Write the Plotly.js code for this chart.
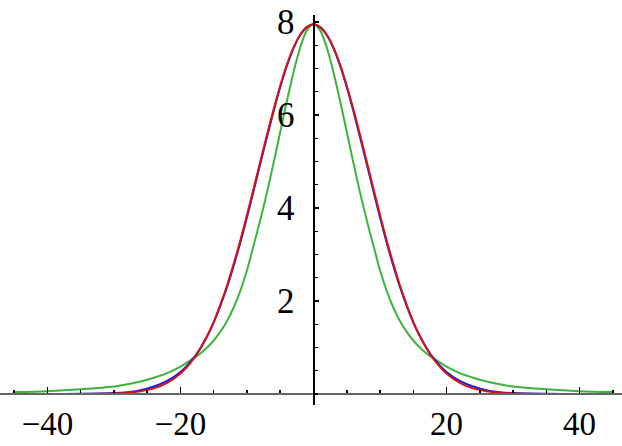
<!DOCTYPE html>
<html>
<head>
<meta charset="utf-8">
<script src="https://cdn.plot.ly/plotly-3.0.1.min.js"></script>
<style>html,body{margin:0;padding:0;background:#fff;}#chart{width:622px;height:446px;}</style>
</head>
<body>
<div id="chart"></div>
<script>
// |x| sample positions (curves are symmetric about x = 0)
var xHalf = [0, 1, 2, 3, 4, 5, 6, 7, 8, 9, 10, 11, 12, 13, 14, 15, 16, 17, 18, 20, 22, 24, 26, 28, 30, 35, 40, 45];
// values
var redHalf   = [7.95, 7.89, 7.72, 7.45, 7.08, 6.63, 6.12, 5.57, 5.00, 4.42, 3.85, 3.30, 2.80, 2.33, 1.92, 1.55, 1.24, 0.98, 0.76, 0.44, 0.24, 0.12, 0.06, 0.027, 0.012, 0.0, 0.0, 0.0];
var blueHalf  = [7.95, 7.89, 7.72, 7.44, 7.06, 6.60, 6.08, 5.52, 4.95, 4.37, 3.80, 3.26, 2.76, 2.30, 1.90, 1.54, 1.24, 0.99, 0.78, 0.47, 0.28, 0.16, 0.08, 0.04, 0.02, 0.005, 0.0, 0.0];
var greenHalf = [7.95, 7.82, 7.45, 6.92, 6.30, 5.64, 4.97, 4.33, 3.74, 3.20, 2.66, 2.22, 1.86, 1.57, 1.34, 1.15, 1.00, 0.87, 0.77, 0.59, 0.45, 0.35, 0.27, 0.21, 0.16, 0.10, 0.06, 0.04];
var xTickVals = [-40, -20, 20, 40];
var yTickVals = [2, 4, 6, 8];

function mirrorX(h){ var a=[]; for(var i=h.length-1;i>0;i--) a.push(-h[i]); return a.concat(h); }
function mirrorY(h){ var a=[]; for(var i=h.length-1;i>0;i--) a.push(h[i]); return a.concat(h); }

var xs = mirrorX(xHalf);
var xMin = -47.14, xMax = 46.39, yMin = -0.237, yMax = 8.15;

function tr(y, color){
  return {x: xs, y: mirrorY(y), type: 'scatter', mode: 'lines',
    line: {color: color, width: 2, shape: 'spline', smoothing: 0.8}, hoverinfo: 'skip'};
}
var data = [tr(greenHalf, '#3cb43c'), tr(blueHalf, '#1a1ae0'), tr(redHalf, '#d41414')];

var fontY = {family: 'Liberation Serif, Times New Roman, serif', size: 35, color: '#000'};
var fontX = {family: 'Liberation Serif, Times New Roman, serif', size: 33, color: '#000'};
var layout = {
  width: 622, height: 446,
  margin: {l: 0, r: 0, t: 15, b: 41, pad: 0},
  paper_bgcolor: '#fff', plot_bgcolor: '#fff',
  showlegend: false, hovermode: false,
  xaxis: {
    range: [xMin, xMax], anchor: 'free', position: (0 - yMin) / (yMax - yMin),
    showgrid: false, zeroline: false, showline: true, linecolor: '#666', linewidth: 2,
    tickmode: 'array', tickvals: xTickVals, ticks: 'inside', ticklen: 6, tickwidth: 1.5, tickcolor: '#000',
    minor: {tickmode: 'linear', tick0: 0, dtick: 5, ticks: 'inside', ticklen: 3, tickwidth: 1.5, tickcolor: '#000', showgrid: false},
    tickfont: fontX, ticklabelstandoff: 0
  },
  yaxis: {
    range: [yMin, yMax], anchor: 'free', position: (0 - xMin) / (xMax - xMin),
    showgrid: false, zeroline: false, showline: true, linecolor: '#000', linewidth: 1.2,
    tickmode: 'array', tickvals: yTickVals, ticks: 'inside', ticklen: 4, tickwidth: 1.2, tickcolor: '#000',
    minor: {tickmode: 'linear', tick0: 0, dtick: 0.5, ticks: 'inside', ticklen: 3, tickwidth: 1.2, tickcolor: '#000', showgrid: false},
    tickfont: fontY, ticklabelstandoff: 12
  }
};
Plotly.newPlot('chart', data, layout, {staticPlot: true, displayModeBar: false});
</script>
</body>
</html>
